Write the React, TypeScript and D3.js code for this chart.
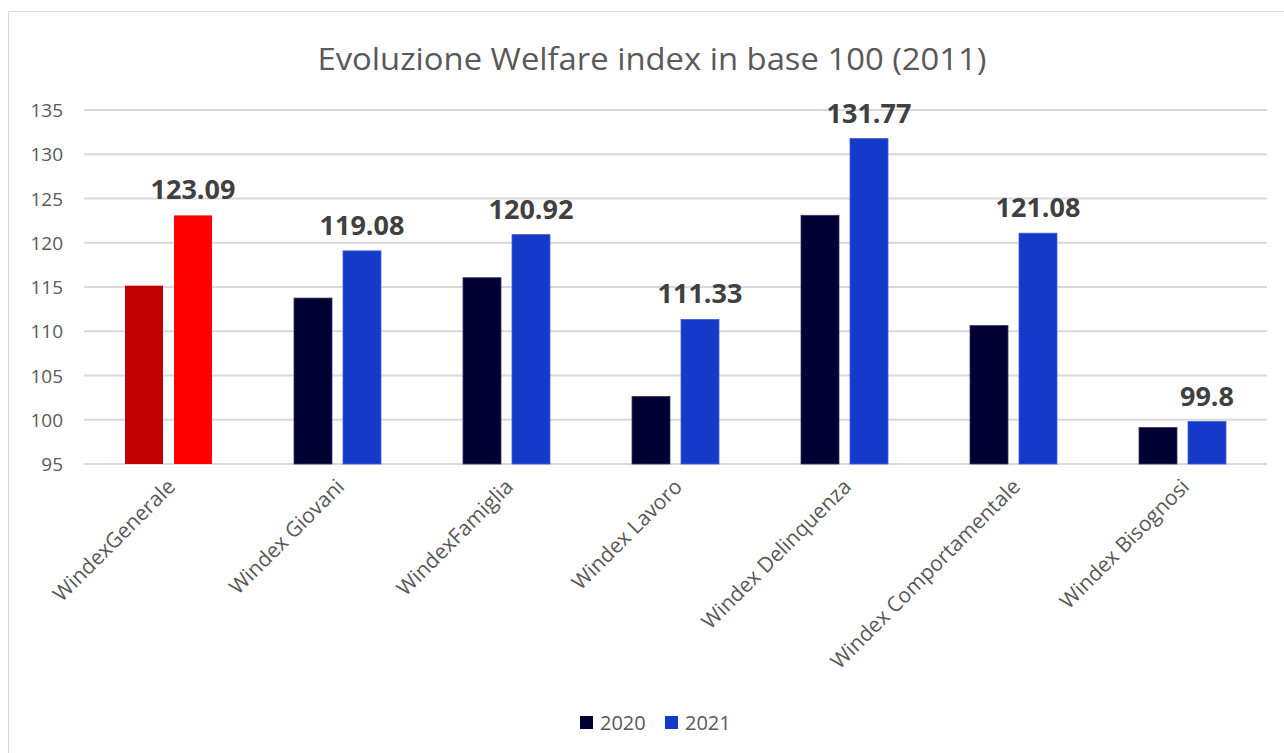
import React from "react";
import * as d3 from "d3";

const categories = [
  "WindexGenerale",
  "Windex Giovani",
  "WindexFamiglia",
  "Windex Lavoro",
  "Windex Delinquenza",
  "Windex Comportamentale",
  "Windex Bisognosi",
];
const values2020 = [115.15, 113.75, 116.05, 102.64, 123.1, 110.65, 99.13];
const values2021 = [123.09, 119.08, 120.92, 111.33, 131.77, 121.08, 99.8];
const seriesNames = ["2020", "2021"];
const yTicks = [95, 100, 105, 110, 115, 120, 125, 130, 135];

const W = 1284;
const H = 753;
const FONT = "'Open Sans', 'Noto Sans', sans-serif";
const C2020 = "#000033";
const C2021 = "#1539C8";
const S2020 = "#3A3A66";
const S2021 = "#3F5FD8";
const C2020_HL = "#C00000";
const C2021_HL = "#FF0000";

export default function App() {
  const left = 84;
  const right = 1267;
  const top = 110;
  const bottom = 464;

  const x = d3.scaleBand<string>().domain(categories).range([left, right]).padding(0);
  const y = d3.scaleLinear().domain([95, 135]).range([bottom, top]);
  const barW = 38;
  const gap = 11;

  return (
    <div style={{ position: "absolute", left: 0, top: 0 }}>
      <svg width={W} height={H} style={{ display: "block", background: "#fff" }}>
        <rect x={8.5} y={11.5} width={W + 10} height={H + 10} fill="#fff" stroke="#D9D9D9" strokeWidth={1} />
        <text x={652} y={70} textAnchor="middle" fontFamily={FONT} fontSize={31} fill="#595959" textLength={669} lengthAdjust="spacingAndGlyphs">
          Evoluzione Welfare index in base 100 (2011)
        </text>
        {yTicks.map((t) => (
          <g key={t}>
            <line x1={left} x2={right} y1={y(t)} y2={y(t)} stroke="#D9D9D9" strokeWidth={2} />
            <text x={63} y={y(t) + 7} textAnchor="end" fontFamily={FONT} fontSize={19} fill="#595959">
              {t}
            </text>
          </g>
        ))}
        {categories.map((c, i) => {
          const cx = (x(c) as number) + x.bandwidth() / 2;
          const hl = i === 0;
          const x20 = cx - gap / 2 - barW;
          const x21 = cx + gap / 2;
          return (
            <g key={c}>
              <rect
                x={x20}
                y={y(values2020[i])}
                width={barW}
                height={bottom - y(values2020[i])}
                fill={hl ? C2020_HL : C2020}
                stroke={hl ? "none" : S2020}
                strokeWidth={0.8}
              />
              <rect
                x={x21}
                y={y(values2021[i])}
                width={barW}
                height={bottom - y(values2021[i])}
                fill={hl ? C2021_HL : C2021}
                stroke={hl ? "none" : S2021}
                strokeWidth={0.8}
              />
              <text
                x={x21 + barW / 2}
                y={y(values2021[i]) - 16}
                textAnchor="middle"
                fontFamily={FONT}
                fontWeight="bold"
                fontSize={27}
                fill="#404040"
              >
                {values2021[i]}
              </text>
              <text
                transform={`translate(${cx + 8},${488}) rotate(-45)`}
                textAnchor="end"
                fontFamily={FONT}
                fontSize={21}
                fill="#595959"
              >
                {c}
              </text>
            </g>
          );
        })}
        {seriesNames.map((s, i) => {
          const lx = 580 + i * 85;
          return (
            <g key={s}>
              <rect x={lx} y={716} width={13} height={13} fill={i === 0 ? C2020 : C2021} />
              <text x={lx + 20} y={730} fontFamily={FONT} fontSize={20} fill="#595959">
                {s}
              </text>
            </g>
          );
        })}
      </svg>
    </div>
  );
}
